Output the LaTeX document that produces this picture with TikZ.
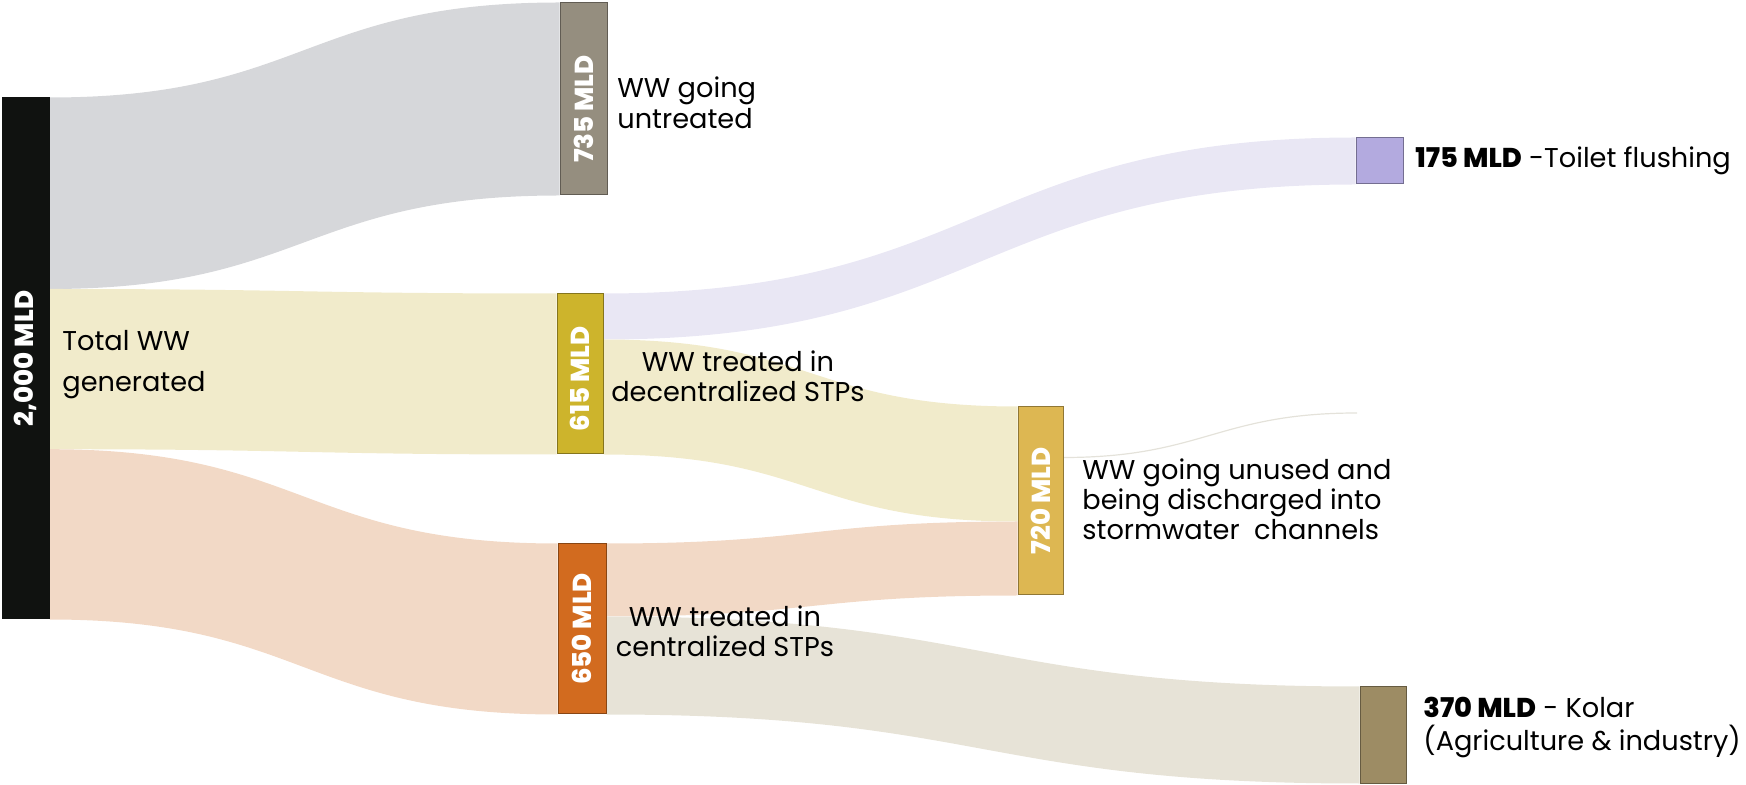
\documentclass[tikz,border=0pt]{standalone}
\usepackage{fontspec}
\setmainfont{Poppins}
\newfontfamily\heavyfont{Poppins ExtraBold}
\usetikzlibrary{positioning,calc,backgrounds}

\definecolor{cblack}{HTML}{101210}
\definecolor{cuntr}{HTML}{958E7F}
\definecolor{cdec}{HTML}{CDB42C}
\definecolor{ccen}{HTML}{D26B1F}
\definecolor{cunused}{HTML}{DDB752}
\definecolor{ctoilet}{HTML}{B3AADF}
\definecolor{ckolar}{HTML}{9D8C64}
\definecolor{fgray}{HTML}{D6D7DA}
\definecolor{fyellow}{HTML}{F1EBCB}
\definecolor{fpink}{HTML}{F2D9C6}
\definecolor{flav}{HTML}{E9E7F4}
\definecolor{fbeige}{HTML}{E7E3D7}
\definecolor{ffaint}{HTML}{E4E2DA}

\tikzset{
  box/.style={fill=#1, draw=#1!65!black, line width=0.5pt, inner sep=0pt, minimum width=23pt},
  boxlabel/.style={rotate=90, text=white, inner sep=0pt, font=\heavyfont\fontsize{13}{13}\selectfont},
  note/.style={inner sep=0pt, font=\fontsize{13.6}{#1}\selectfont},
  note/.default=15pt,
  faintline/.style={draw=ffaint, line width=0.6pt},
}

% band between two ports, horizontal at both ends
\newcommand{\sflow}[5]{%
  \fill[#1] let \p1=(#2), \p2=(#4), \p3=(#5), \p4=(#3), \n1={(\x2-\x1)/2} in
    (\p1) .. controls ({\x1+\n1},\y1) and ({\x2-\n1},\y2) .. (\p2)
    -- (\p3) .. controls ({\x3-\n1},\y3) and ({\x4+\n1},\y4) .. (\p4) -- cycle;
}

\begin{document}
\begin{tikzpicture}[x=0.5pt,y=-0.5pt]
  \useasboundingbox (0,0) rectangle (1746,785);

  % Boxes
  \node[box=cblack, draw=cblack, minimum width=23.5pt, minimum height=260.5pt] (total) at (25.5,358.5) {};
  \node[box=cuntr, minimum width=23.5pt, minimum height=96pt] (untr) at (583.5,99) {};
  \node[box=cdec, minimum height=80pt] (dec) at (580,374) {};
  \node[box=ccen, minimum width=24pt, minimum height=85pt] (cen) at (582,629) {};
  \node[box=cunused, minimum width=22.5pt, minimum height=94pt] (unused) at (1040.5,501) {};
  \node[box=ctoilet, minimum width=23.5pt, minimum height=23pt] (toilet) at (1379.5,161) {};
  \node[box=ckolar, minimum height=48pt] (kolar) at (1383,735) {};

  % Box labels
  \node[boxlabel] (totallbl) at (total) {2,000 MLD};
  \node[boxlabel] (untrlbl) at ($(untr)+(0,10)$) {735 MLD};
  \node[boxlabel] (declbl) at ($(dec)+(0,5)$) {615 MLD};
  \node[boxlabel] (cenlbl) at (cen) {650 MLD};
  \node[boxlabel] (unusedlbl) at (unused) {720 MLD};

  % Flows
  \begin{scope}[on background layer]
    \sflow{fgray}{total.north east}{$(total.north east)+(0,191.5)$}{untr.north west}{untr.south west}
    \sflow{fyellow}{$(total.north east)+(0,191.5)$}{$(total.north east)+(0,351.7)$}{dec.north west}{dec.south west}
    \sflow{fpink}{$(total.north east)+(0,351.7)$}{total.south east}{cen.north west}{cen.south west}
    \sflow{flav}{dec.north east}{$(dec.north east)+(0,46)$}{toilet.north west}{toilet.south west}
    \sflow{fyellow}{$(dec.north east)+(0,46)$}{dec.south east}{unused.north west}{$(unused.north west)+(0,115)$}
    \sflow{fpink}{cen.north east}{$(cen.north east)+(0,73)$}{$(unused.north west)+(0,115)$}{unused.south west}
    \sflow{fbeige}{$(cen.north east)+(0,73)$}{cen.south east}{kolar.north west}{kolar.south west}
    \coordinate (faintend) at (1357,413);
    \draw[faintline] ($(unused.north east)+(0,51)$) to[out=0,in=180,looseness=1.2] (faintend);
  \end{scope}

  % Texts
  \node[note=20.5pt, align=left, anchor=base west] (totaltxt) at (62,392) {Total WW\\generated};
  \node[note=15.5pt, align=left, anchor=base west] (untrtxt) at (617,129) {WW going\\untreated};
  \node[note, align=center, anchor=base] (dectxt) at (738,402) {WW treated in\\decentralized STPs};
  \node[note, align=center, anchor=base] (centxt) at (725,657) {WW treated in\\centralized STPs};
  \node[note, align=left, anchor=base west] (unusedtxt) at (1082,540) {WW going unused and\\being discharged into\\stormwater\ \ channels};
  \node[note, anchor=base west] (toilettxt) at (1415,168) {{\heavyfont 175 MLD} -Toilet flushing};
  \node[note=16.5pt, align=left, anchor=base west] (kolartxt) at (1423,750) {{\heavyfont 370 MLD} - Kolar\\(Agriculture \& industry)};
\end{tikzpicture}
\end{document}
